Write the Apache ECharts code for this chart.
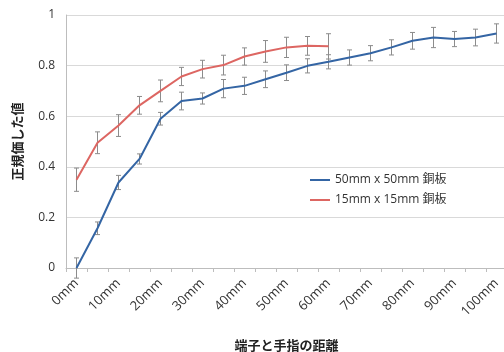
<!DOCTYPE html>
<html><head><meta charset="utf-8">
<script src="https://cdn.jsdelivr.net/npm/echarts@6/dist/echarts.min.js"></script>
<style>html,body{margin:0;padding:0;background:#fff}#c{width:504px;height:352px}</style>
</head><body><div id="c"></div>
<script>
const categories = ['0mm','5mm','10mm','15mm','20mm','25mm','30mm','35mm','40mm','45mm','50mm','55mm','60mm','65mm','70mm','75mm','80mm','85mm','90mm','95mm','100mm'];
const blueName = '50mm x 50mm 銅板';
const redName = '15mm x 15mm 銅板';
const blueVals = [0.0,0.157,0.338,0.431,0.59,0.66,0.67,0.709,0.72,0.746,0.772,0.799,0.815,0.832,0.849,0.872,0.898,0.911,0.905,0.911,0.927];
const blueErr  = [0.04,0.025,0.028,0.02,0.025,0.035,0.022,0.036,0.034,0.033,0.031,0.028,0.028,0.03,0.03,0.03,0.033,0.04,0.03,0.033,0.038];
const redVals  = [0.349,0.495,0.563,0.643,0.70,0.757,0.786,0.802,0.836,0.856,0.872,0.878,0.876];
const redErr   = [0.046,0.043,0.043,0.035,0.043,0.036,0.035,0.039,0.034,0.043,0.04,0.037,0.05];
const yTicks = [0,0.2,0.4,0.6,0.8,1];

const font = '"Open Sans","Noto Sans CJK JP",sans-serif';
const chart = echarts.init(document.getElementById('c'));

function errSeries(vals, errs){
  return {
    type:'custom', silent:true, z:1,
    data: vals.map((v,i)=>[i, v-errs[i], v+errs[i]]),
    renderItem(params, api){
      const lo = api.coord([api.value(0), api.value(1)]);
      const hi = api.coord([api.value(0), api.value(2)]);
      const w = 2.5;
      const st = {stroke:'#8c8c8c', lineWidth:1};
      return {type:'group', children:[
        {type:'line', shape:{x1:lo[0],y1:lo[1],x2:hi[0],y2:hi[1]}, style:st},
        {type:'line', shape:{x1:lo[0]-w,y1:lo[1],x2:lo[0]+w,y2:lo[1]}, style:st},
        {type:'line', shape:{x1:hi[0]-w,y1:hi[1],x2:hi[0]+w,y2:hi[1]}, style:st}
      ]};
    }
  };
}

chart.setOption({
  animation:false,
  backgroundColor:'#fff',
  textStyle:{fontFamily:font},
  grid:{left:66, top:15, width:441, height:253, containLabel:false, outerBoundsMode:'none'},
  legend:{
    data:[{name:blueName},{name:redName}],
    orient:'vertical', left:306, top:170, itemGap:8,
    itemWidth:20, itemHeight:2, icon:'rect',
    backgroundColor:'#fff', padding:[4,6,6,4],
    textStyle:{fontSize:12, color:'#333', fontFamily:font}
  },
  xAxis:{
    type:'category', data:categories, boundaryGap:true,
    name:'端子と手指の距離', nameLocation:'middle', nameGap:71,
    nameTextStyle:{fontSize:13, fontWeight:'bold', color:'#222', fontFamily:'"Noto Sans CJK JP",sans-serif'},
    axisLine:{lineStyle:{color:'#bdbdbd'}},
    axisTick:{show:true, interval:0, length:4, lineStyle:{color:'#bdbdbd'}},
    axisLabel:{interval:1, rotate:45, fontSize:13, color:'#333', margin:13},
    splitLine:{show:false}
  },
  yAxis:{
    type:'value', min:0, max:1, interval:0.2,
    name:'正規価した値', nameLocation:'middle', nameGap:42, nameRotate:90,
    nameTextStyle:{fontSize:13, fontWeight:'bold', color:'#222', fontFamily:'"Noto Sans CJK JP",sans-serif'},
    axisLine:{show:true, lineStyle:{color:'#bdbdbd'}},
    axisTick:{show:false},
    axisLabel:{fontSize:12, color:'#333', margin:11, formatter:v=>String(+v.toFixed(1))},
    splitLine:{lineStyle:{color:'#d9d9d9'}}
  },
  series:[
    {name:blueName, type:'line', data:blueVals, showSymbol:false, z:3,
     lineStyle:{color:'#3465a4', width:2}, itemStyle:{color:'#3465a4'}},
    {name:redName, type:'line', data:redVals, showSymbol:false, z:3,
     lineStyle:{color:'#dd6662', width:2}, itemStyle:{color:'#dd6662'}},
    errSeries(blueVals, blueErr),
    errSeries(redVals, redErr)
  ]
});
</script></body></html>
